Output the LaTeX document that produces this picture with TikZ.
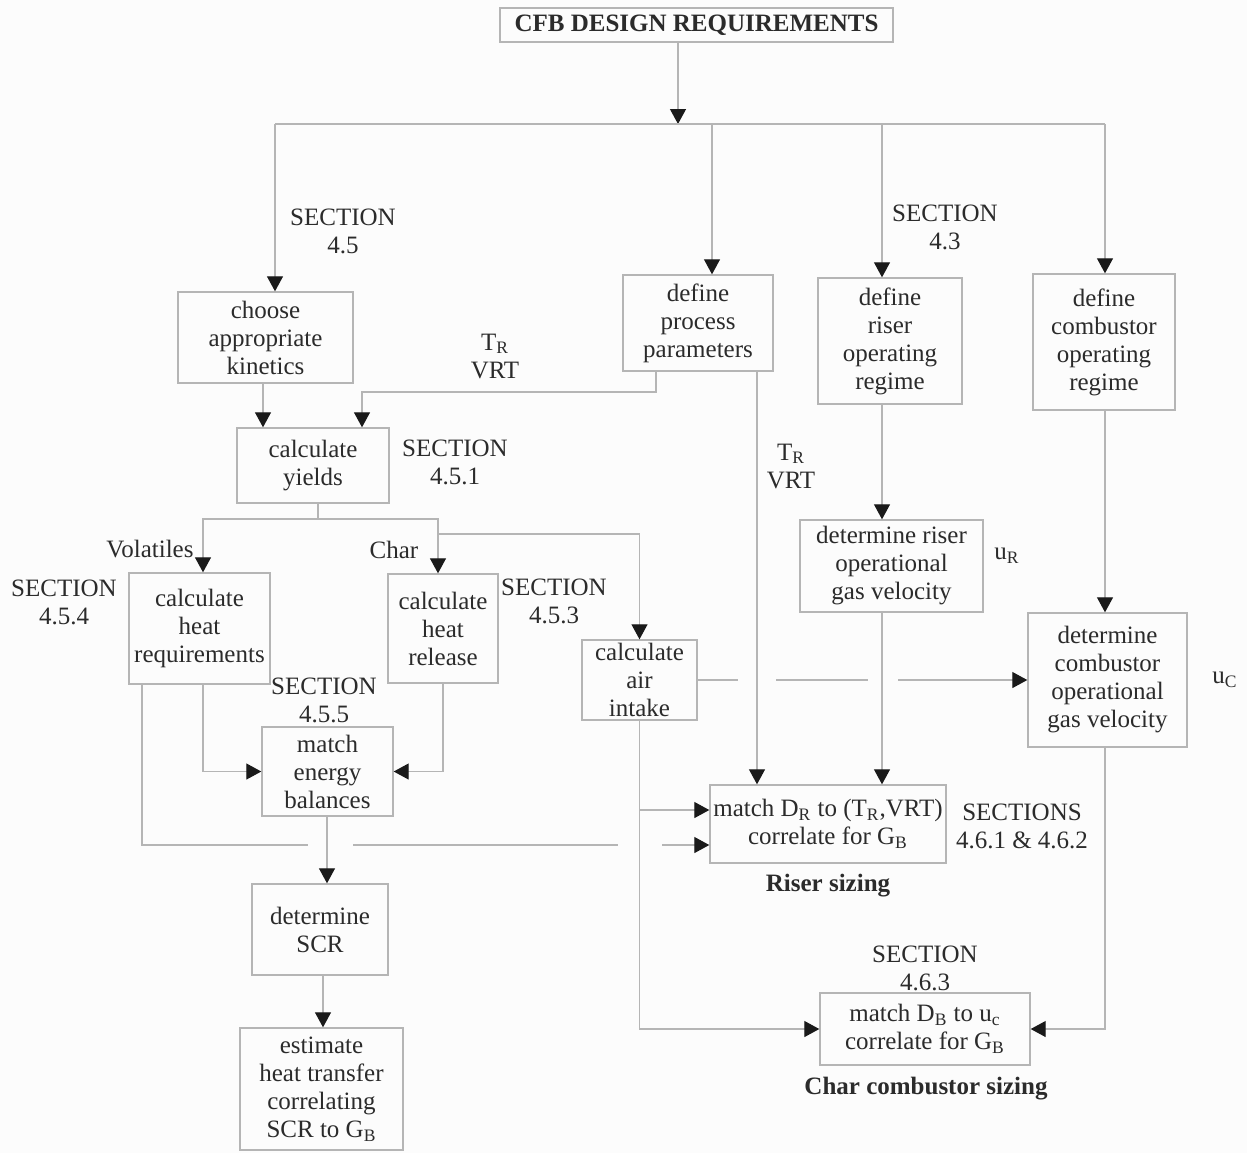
\documentclass[tikz,border=0pt]{standalone}
\usepackage{fontspec}
\setmainfont{Liberation Serif}
\usetikzlibrary{arrows.meta}
\definecolor{txt}{HTML}{2B2B2B}
\definecolor{lnc}{HTML}{B5B5B5}
\definecolor{arc}{HTML}{1A1A1A}
\definecolor{bgc}{HTML}{FCFCFC}
\tikzset{
 boxn/.style={draw=lnc, line width=0.7pt, rectangle, align=center, inner sep=0pt, text=txt, font=\fontsize{12.5}{14}\selectfont},
 lbl/.style={align=center, inner sep=0pt, text=txt, font=\fontsize{12.5}{14}\selectfont},
 ln/.style={draw=lnc, line width=0.6pt},
 arr/.style={ln, -{Triangle[width=8pt,length=7.5pt,color=arc]}},
}
\begin{document}
\begin{tikzpicture}[x=0.5pt,y=-0.5pt]
\fill[bgc] (0,0) rectangle (1247,1153);
\useasboundingbox (0,0) rectangle (1247,1153);

% boxes
\node[boxn, minimum width=196.5pt, minimum height=17pt, font=\bfseries\fontsize{12.5}{14}\selectfont] (top) at (696.5,25) {CFB DESIGN REQUIREMENTS};
\node[boxn, minimum width=87.5pt, minimum height=45.5pt] (kin) at (265.5,337.5) {choose\\appropriate\\kinetics};
\node[boxn, minimum width=75pt, minimum height=48pt] (proc) at (698,323) {define\\process\\parameters};
\node[boxn, minimum width=72pt, minimum height=63pt] (rreg) at (890,341) {define\\riser\\operating\\regime};
\node[boxn, minimum width=71pt, minimum height=68pt] (creg) at (1104,342) {define\\combustor\\operating\\regime};
\node[boxn, minimum width=76pt, minimum height=37.5pt] (yields) at (313,465.5) {calculate\\yields};
\node[boxn, minimum width=70.5pt, minimum height=55.5pt] (hreq) at (199.5,628.5) {calculate\\heat\\requirements};
\node[boxn, minimum width=55pt, minimum height=54.5pt] (hrel) at (443,628.5) {calculate\\heat\\release};
\node[boxn, minimum width=57.5pt, minimum height=40pt] (air) at (639.5,680) {calculate\\air\\intake};
\node[boxn, minimum width=65.5pt, minimum height=44.5pt] (energy) at (327.5,771.5) {match\\energy\\balances};
\node[boxn, minimum width=68pt, minimum height=45.5pt] (scr) at (320,929.5) {determine\\SCR};
\node[boxn, minimum width=81.5pt, minimum height=61pt] (est) at (321.5,1089) {estimate\\heat transfer\\correlating\\SCR to G\textsubscript{B}};
\node[boxn, minimum width=91.5pt, minimum height=46pt] (driser) at (891.5,566) {determine riser\\operational\\gas velocity};
\node[boxn, minimum width=79.5pt, minimum height=67pt] (dcomb) at (1107.5,680) {determine\\combustor\\operational\\gas velocity};
\node[boxn, minimum width=118pt, minimum height=39pt] (riser) at (828,824) {match D\textsubscript{R} to (T\textsubscript{R},VRT)\\correlate for G\textsubscript{B}};
\node[boxn, minimum width=105pt, minimum height=36pt] (charb) at (925,1029) {match D\textsubscript{B} to u\textsubscript{c}\\correlate for G\textsubscript{B}};

% labels
\node[lbl] (l45) at (343,231) {SECTION\\4.5};
\node[lbl] (ltr1) at (495,356) {T\textsubscript{R}\\VRT};
\node[lbl] (l43) at (945,227) {SECTION\\4.3};
\node[lbl] (l451) at (455,462) {SECTION\\4.5.1};
\node[lbl] (ltr2) at (791,466) {T\textsubscript{R}\\VRT};
\node[lbl] (lvol) at (150,549) {Volatiles};
\node[lbl] (lchar) at (394,550) {Char};
\node[lbl] (l454) at (64,602) {SECTION\\4.5.4};
\node[lbl] (l453) at (554,601) {SECTION\\4.5.3};
\node[lbl] (l455) at (324,700) {SECTION\\4.5.5};
\node[lbl] (lur) at (1007,556) {u\textsubscript{R}};
\node[lbl] (luc) at (1225,680) {u\textsubscript{C}};
\node[lbl] (l46) at (1022,826) {SECTIONS\\4.6.1 \& 4.6.2};
\node[lbl, font=\bfseries\fontsize{12.5}{14}\selectfont] (lrs) at (828,886) {Riser sizing};
\node[lbl] (l463) at (925,968) {SECTION\\4.6.3};
\node[lbl, font=\bfseries\fontsize{12.5}{14}\selectfont] (lcs) at (926,1089) {Char combustor sizing};

% coordinates
\coordinate (hub) at (678,124);
\coordinate (b1) at (275,124);
\coordinate (b2) at (712,124);
\coordinate (b3) at (882,124);
\coordinate (b4) at (1105,124);
\coordinate (k1) at (263,0);
\coordinate (p1) at (656,0);
\coordinate (p2) at (757,0);
\coordinate (y2) at (362,392);
\coordinate (s0) at (318,0);
\coordinate (s1) at (318,519);
\coordinate (v0) at (142,0);
\coordinate (v1) at (203,0);
\coordinate (c1) at (438,0);
\coordinate (a1) at (438,534);
\coordinate (m1) at (327,0);
\coordinate (m2) at (323,0);
\coordinate (yup) at (0,810);
\coordinate (ylow) at (0,845);

% connectors
\draw[arr] (top.south -| hub) -- (hub);
\draw[ln] (b1) -- (b4);
\draw[arr] (b1) -- (kin.north -| b1);
\draw[arr] (b2) -- (proc.north -| b2);
\draw[arr] (b3) -- (rreg.north -| b3);
\draw[arr] (b4) -- (creg.north -| b4);

\draw[arr] (kin.south -| k1) -- (yields.north -| k1);
\draw[arr] (proc.south -| p1) |- (y2) -- (yields.north -| y2);

\draw[ln] (yields.south -| s0) -- (s1);
\draw[arr] (s1) -| (hreq.north -| v1);
\draw[arr] (s1) -| (hrel.north -| c1);
\draw[arr] (a1) -| (air.north);

\draw[arr] (hreq.south -| v1) |- (energy.west);
\draw[arr] (hrel.south) |- (energy.east);
\draw[arr] (hreq.south -| v0) |- (308,845) (353,845) -- (618,845) (662,845) -- (riser.west |- ylow);

\draw[arr] (energy.south -| m1) -- (scr.north -| m1);
\draw[arr] (scr.south -| m2) -- (est.north -| m2);

\draw[arr] (air.east) -- (738,680) (776,680) -- (868,680) (898,680) -- (dcomb.west);
\draw[arr] (air.south) |- (charb.west);
\draw[arr] (air.south |- yup) -- (riser.west |- yup);

\draw[arr] (proc.south -| p2) -- (riser.north -| p2);
\draw[arr] (rreg.south -| b3) -- (driser.north -| b3);
\draw[arr] (driser.south -| b3) -- (riser.north -| b3);
\draw[arr] (creg.south -| b4) -- (dcomb.north -| b4);
\draw[arr] (dcomb.south -| b4) |- (charb.east);
\end{tikzpicture}
\end{document}
